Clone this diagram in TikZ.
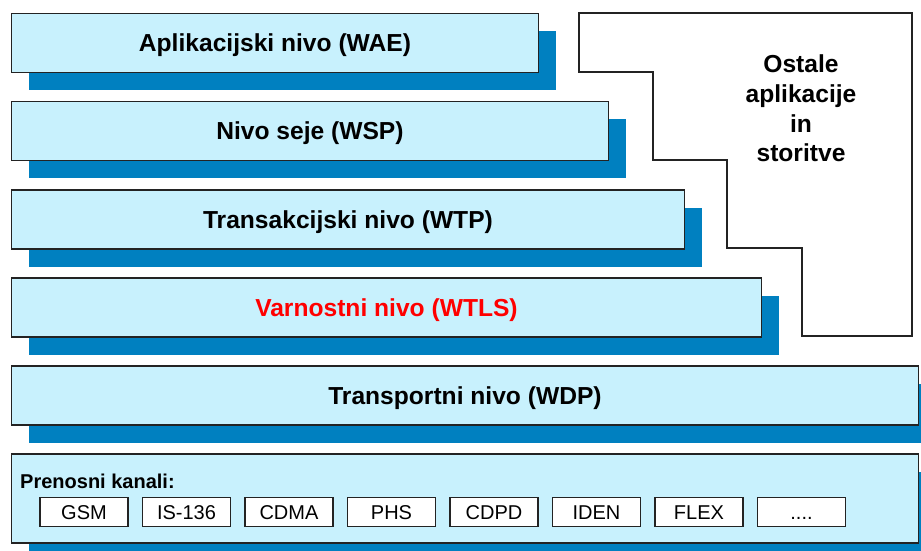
\documentclass[tikz,border=0pt]{standalone}
\usepackage{fontspec}
\setmainfont{Liberation Sans}
\usetikzlibrary{shadows}

\definecolor{layerfill}{RGB}{200,241,253}
\definecolor{layershadow}{RGB}{0,128,192}
\definecolor{edge}{RGB}{35,35,35}

\tikzset{
  layer/.style={
    draw=edge, line width=1.5pt, fill=layerfill,
    anchor=north west, minimum height=59pt, inner sep=0pt,
    drop shadow={shadow xshift=18pt, shadow yshift=-18pt,
                 fill=layershadow, opacity=1},
    font=\fontsize{24.6}{29}\selectfont\bfseries,
    text height=17.5pt, text depth=0pt
  },
  chan/.style={
    draw=edge, line width=1.1pt, fill=white,
    minimum width=88pt, minimum height=29pt, inner sep=0pt,
    font=\fontsize{20}{24}\selectfont,
    text height=14.3pt, text depth=0pt
  }
}

\begin{document}
\begin{tikzpicture}[x=1pt,y=-1pt]
  \useasboundingbox (0,0) rectangle (921,551);

  % protocol stack layers
  \node[layer, minimum width=527pt] (wae)  at (10.7,12.7)  {Aplikacijski nivo (WAE)};
  \node[layer, minimum width=597pt] (wsp)  at (10.7,100.7) {Nivo seje (WSP)};
  \node[layer, minimum width=673pt] (wtp)  at (10.7,189)   {Transakcijski nivo (WTP)};
  \node[layer, minimum width=750pt, text=red] (wtls) at (10.7,277) {Varnostni nivo (WTLS)};
  \node[layer, minimum width=907pt] (wdp)  at (10.7,365)   {Transportni nivo (WDP)};
  \node[layer, minimum width=907pt, minimum height=89pt] (bearer) at (10.7,453.3) {};

  % stepped box for other applications
  \draw[draw=edge, line width=1.8pt, fill=white]
    (578.7,13.3) -- (578.7,71.7) -- (653.3,71.7) -- (653.3,160)
    -- (727,160) -- (727,248) -- (801.7,248) -- (801.7,335.7)
    -- (912.3,335.7) -- (912.3,13.3) -- cycle;
  \node[align=center, anchor=base, font=\fontsize{24.6}{29.7}\selectfont\bfseries]
    (other) at (801,161.7) {Ostale\\aplikacije\\in\\storitve};

  % bearer channels
  \node[anchor=base west, inner sep=0pt, font=\fontsize{20}{24}\selectfont\bfseries]
    (bearerlabel) at (20,488) {Prenosni kanali:};
  \node[chan] (gsm)  at (84,512.2)    {GSM};
  \node[chan] (is)   at (186.5,512.2) {IS-136};
  \node[chan] (cdma) at (289,512.2)   {CDMA};
  \node[chan] (phs)  at (391.5,512.2) {PHS};
  \node[chan] (cdpd) at (494,512.2)   {CDPD};
  \node[chan] (iden) at (596.5,512.2) {IDEN};
  \node[chan] (flex) at (699,512.2)   {FLEX};
  \node[chan] (more) at (801.5,512.2) {....};
\end{tikzpicture}
\end{document}
